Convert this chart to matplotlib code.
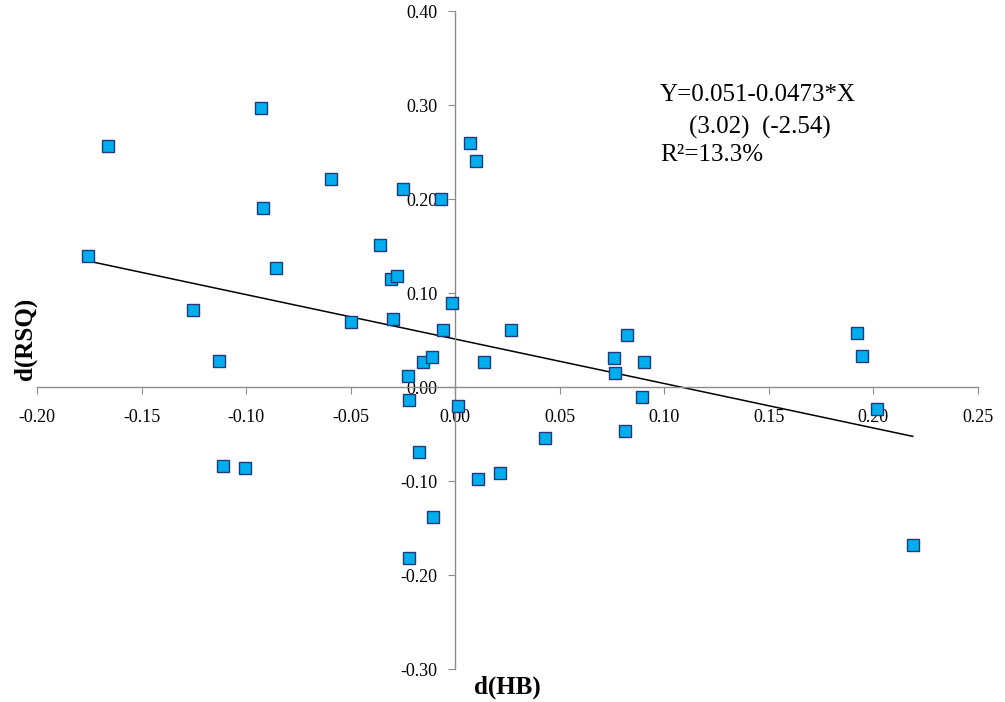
import numpy as np
import matplotlib.pyplot as plt

# d(HB) vs d(RSQ)
x_vals = [-0.1754, -0.1660, -0.1254, -0.1131, -0.1110, -0.1007, -0.0931, -0.0921,
          -0.0859, -0.0594, -0.0496, -0.0362, -0.0307, -0.0276, -0.0298, -0.0252,
          -0.0226, -0.0220, -0.0155, -0.0110, -0.0067, -0.0059, -0.0013, 0.0014,
          0.0072, 0.0100, 0.0140, 0.0269, 0.0429, 0.0759, 0.0766, 0.0822,
          0.0813, 0.0894, 0.0905, -0.0175, 0.0107, 0.0212, -0.0108, -0.0223,
          0.1920, 0.1944, 0.2016, 0.2188]
y_vals = [0.1394, 0.2567, 0.0816, 0.0277, -0.0840, -0.0858, 0.2968, 0.1904,
          0.1263, 0.2216, 0.0690, 0.1507, 0.1149, 0.1180, 0.0727, 0.2110,
          0.0120, -0.0135, 0.0266, 0.0320, 0.1997, 0.0603, 0.0894, -0.0200,
          0.2596, 0.2400, 0.0270, 0.0606, -0.0546, 0.0309, 0.0152, 0.0553,
          -0.0465, -0.0106, 0.0269, -0.0695, -0.0980, -0.0920, -0.1380, -0.1820,
          0.0570, 0.0330, -0.0237, -0.1680]

# trend line as drawn on the chart
intercept = 0.051
slope = -0.473

x_ticks = [-0.20, -0.15, -0.10, -0.05, 0.00, 0.05, 0.10, 0.15, 0.20, 0.25]
y_ticks = [-0.30, -0.20, -0.10, 0.00, 0.10, 0.20, 0.30, 0.40]

plt.rcParams['font.family'] = ['Liberation Serif', 'DejaVu Serif']

fig = plt.figure(figsize=(10.05, 7.02), dpi=100)
ax = fig.add_axes([0.0368, 0.047, 0.9363, 0.9373])

x = np.array(x_vals)
y = np.array(y_vals)

# regression line from the smallest to the largest x
lx = np.array([x.min(), x.max()])
ax.plot(lx, intercept + slope * lx, color='black', lw=1.1, zorder=2)

ax.plot(x, y, ls='none', marker='s', ms=8, mfc='#00aeef', mec='#1f3a78',
        mew=1.0, zorder=3)

ax.set_xlim(-0.20, 0.25)
ax.set_ylim(-0.30, 0.40)

# axes crossing at the origin, Excel style
for side in ['top', 'right']:
    ax.spines[side].set_visible(False)
ax.spines['left'].set_position(('data', 0))
ax.spines['bottom'].set_position(('data', 0))
for side in ['left', 'bottom']:
    ax.spines[side].set_color('#8c8c8c')
    ax.spines[side].set_linewidth(1.0)

ax.set_xticks(x_ticks)
ax.set_yticks(y_ticks)
ax.set_xticklabels(['%.2f' % v for v in x_ticks])
ax.set_yticklabels(['%.2f' % v for v in y_ticks])
ax.tick_params(axis='x', direction='out', length=5, color='#8c8c8c',
               labelsize=13, pad=11)
ax.tick_params(axis='y', direction='out', length=5, color='#8c8c8c',
               labelsize=13, pad=8)

ax.text(0.098, 0.3106, 'Y=0.051-0.0473*X', fontsize=18, va='center', ha='left')
ax.text(0.112, 0.2766, '(3.02)  (-2.54)', fontsize=18, va='center', ha='left')
ax.text(0.098, 0.2468, 'R²=13.3%', fontsize=18, va='center', ha='left')

fig.text(0.0249, 0.517, 'd(RSQ)', rotation=90, fontsize=18, fontweight='bold',
         ha='center', va='center')
fig.text(0.5045, 0.0214, 'd(HB)', fontsize=18, fontweight='bold',
         ha='center', va='center')

fig.savefig('out.png', dpi=100)
